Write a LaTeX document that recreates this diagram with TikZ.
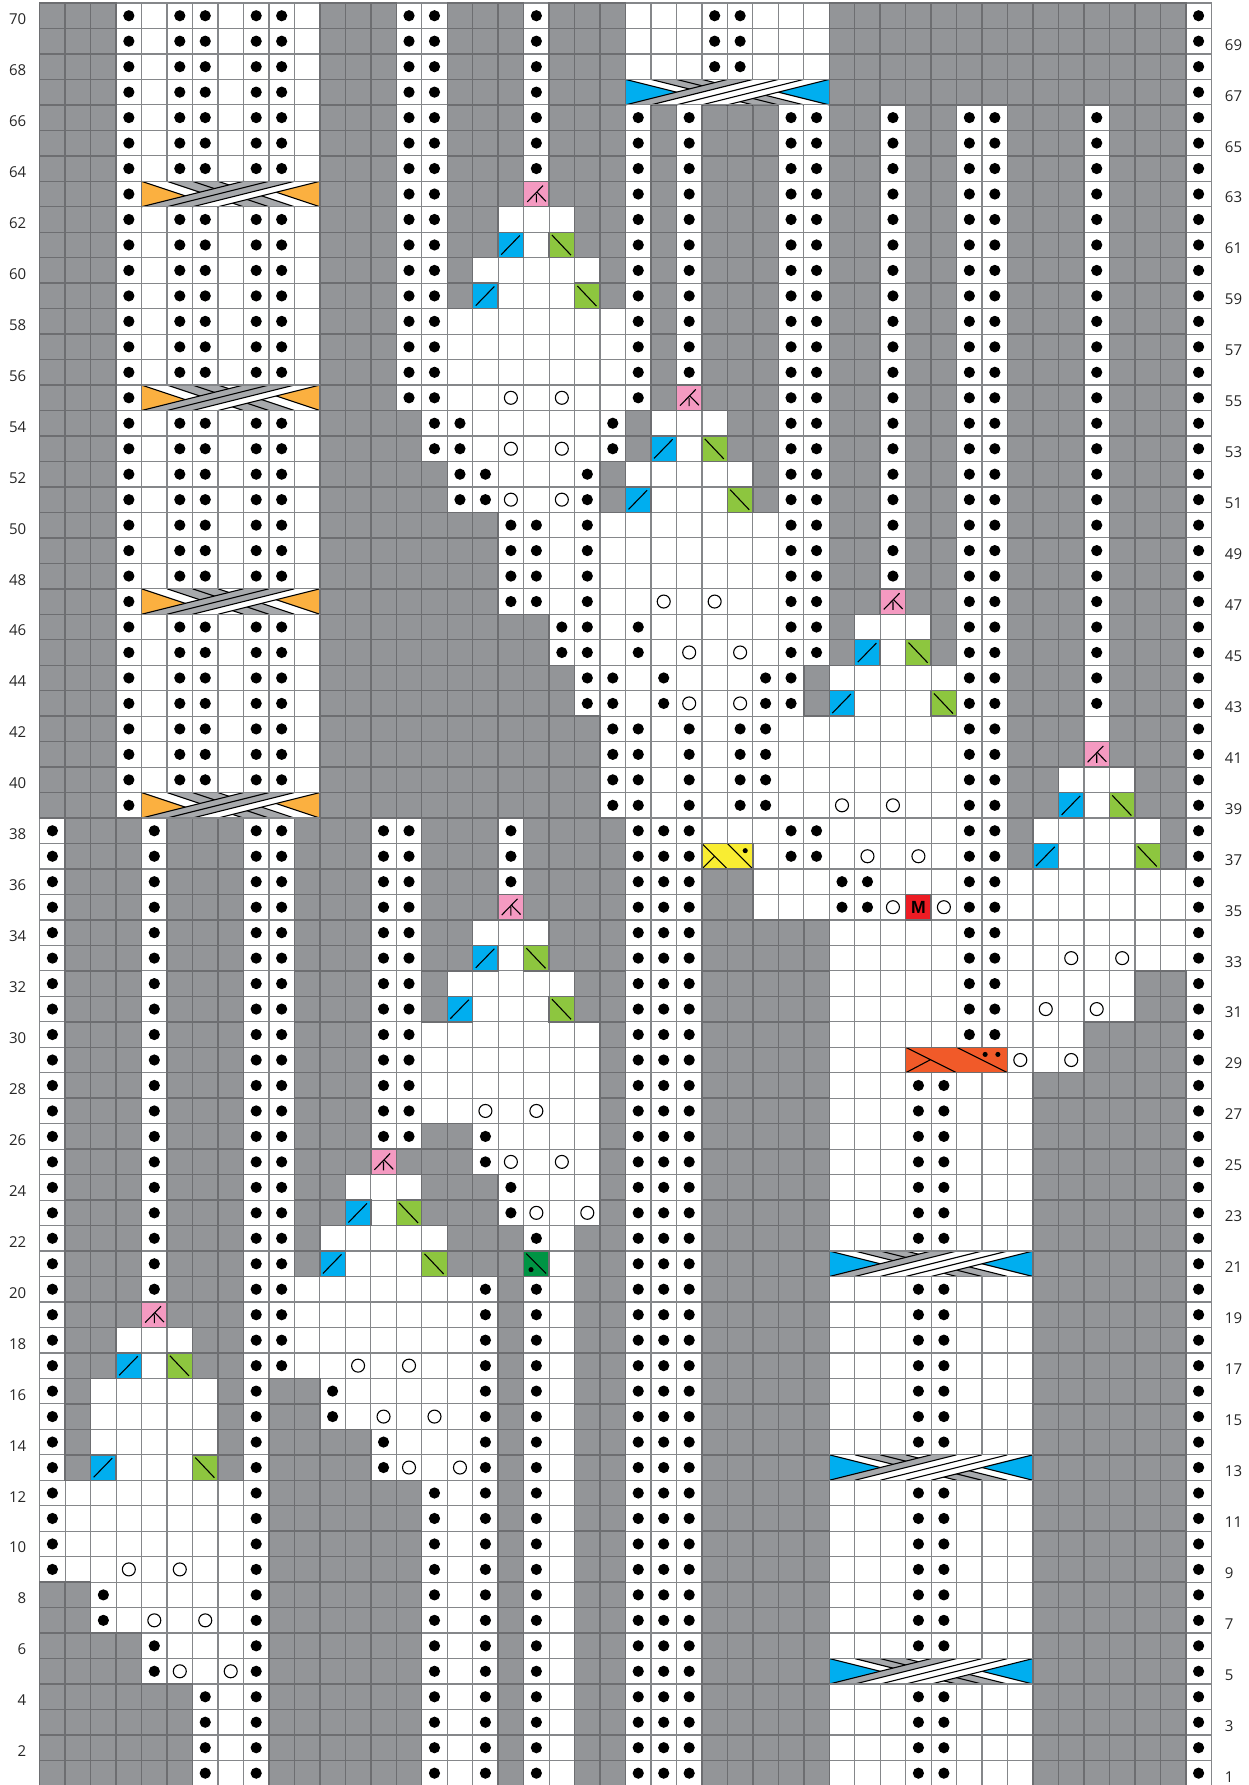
\documentclass[tikz,border=0pt]{standalone}
\usepackage{fontspec}
\setmainfont{Open Sans}
\newfontfamily\mfont{Liberation Sans}
\definecolor{cgray}{HTML}{939598}
\definecolor{lightgrid}{HTML}{85878A}
\definecolor{darkgrid}{HTML}{6D6E71}
\definecolor{cabgray}{HTML}{A7A9AC}
\definecolor{cblue}{HTML}{00AEEF}
\definecolor{cgreen}{HTML}{8DC63F}
\definecolor{cpink}{HTML}{F49AC1}
\definecolor{cdkgreen}{HTML}{009444}
\definecolor{cred}{HTML}{ED1C24}
\definecolor{cyellow}{HTML}{F9ED32}
\definecolor{corange}{HTML}{F15A29}
\definecolor{camber}{HTML}{FBB040}
\tikzset{
  lightline/.style={draw=lightgrid,line width=.6pt},
  darkline/.style={draw=darkgrid,line width=.72pt},
  stitch/.style={draw=black,line width=.55pt},
  rowlabel/.style={inner sep=0pt,font=\fontsize{7.5pt}{9pt}\selectfont,text=black!85}
}
\newcount\cidx
\newcount\ridx
\def\ChartParse#1{\ifx#1\relax\let\PNext\relax\else\CellAct{#1}\advance\cidx by 1 \let\PNext\ChartParse\fi\PNext}
\def\ChartRow#1#2{\cidx=0 \ridx=\numexpr70-#1\relax \ChartParse#2\relax}
% fill colours per cell code
\expandafter\def\csname fc-\endcsname{cgray}
\expandafter\def\csname fcB\endcsname{cblue}
\expandafter\def\csname fcG\endcsname{cgreen}
\expandafter\def\csname fcP\endcsname{cpink}
\expandafter\def\csname fcD\endcsname{cdkgreen}
\expandafter\def\csname fcM\endcsname{cred}
% cells with a dark frame
\expandafter\def\csname dk-\endcsname{}
\expandafter\def\csname dkB\endcsname{}
\expandafter\def\csname dkG\endcsname{}
\expandafter\def\csname dkP\endcsname{}
\expandafter\def\csname dkD\endcsname{}
\expandafter\def\csname dkM\endcsname{}
% symbols
\expandafter\def\csname symo\endcsname{\fill[black] (.5,.5) circle (.22);}
\expandafter\def\csname symO\endcsname{\draw[stitch,fill=white] (.5,.5) circle (.255);}
\expandafter\def\csname symB\endcsname{\draw[stitch] (.12,.88) -- (.85,.13);}
\expandafter\def\csname symG\endcsname{\draw[stitch] (.11,.11) -- (.86,.9);}
\expandafter\def\csname symP\endcsname{\draw[stitch] (.14,.81) -- (.76,.17) (.53,.43) -- (.88,.79) (.5,.5) -- (.5,.83);}
\expandafter\def\csname symD\endcsname{\draw[stitch] (.1,.1) -- (.88,.88); \fill[black] (.29,.73) circle (.1);}
\expandafter\def\csname symM\endcsname{\node[inner sep=0pt,text=black,font=\mfont\bfseries\fontsize{8.8pt}{9pt}\selectfont] (mstitch) at (.5,.52) {M};}
\def\ActFill#1{\ifcsname fc#1\endcsname\expandafter\let\expandafter\cellcol\csname fc#1\endcsname\fill[fill=\cellcol] (\the\cidx,\the\ridx) rectangle ++(1,1);\fi}
\def\ActLight#1{\ifcsname dk#1\endcsname\else\draw[lightline] (\the\cidx,\the\ridx) rectangle ++(1,1);\fi}
\def\ActDark#1{\ifcsname dk#1\endcsname\draw[darkline] (\the\cidx,\the\ridx) rectangle ++(1,1);\fi}
\def\ActSym#1{\ifcsname sym#1\endcsname\begin{scope}[shift={(\the\cidx,\the\ridx)}]\csname sym#1\endcsname\end{scope}\fi}
\newcommand{\TwistCable}[8]{% col, top, colour, n, Uw, Lw, under bands, over bands
  \begin{scope}[shift={(#1,#2)}]
    \fill[white] (0,0) rectangle (#4,1);
    \foreach \k/\bc in {#7} {\fill[\bc] (\k,0) -- ({\k+1},0) -- ({\k+1+#5},1) -- ({\k+#5},1) -- cycle;}
    \pgfmathsetmacro{\apx}{#5*#6/(#5+#6)}
    \pgfmathsetmacro{\apl}{#6/(#5+#6)}
    \pgfmathsetmacro{\apr}{#5/(#5+#6)}
    \fill[#3] (0,0) -- (\apx,\apl) -- (0,1) -- cycle;
    \fill[#3] (#4,0) -- ({#4-\apx},\apr) -- (#4,1) -- cycle;
    \pgfmathtruncatemacro{\ulast}{#4-#5}
    \foreach \k in {0,...,\ulast} {\draw[stitch] (\k,0) -- ({\k+#5},1);}
    \foreach \k/\bc in {#8} {\fill[\bc] (\k,1) -- ({\k+1},1) -- ({\k+1+#6},0) -- ({\k+#6},0) -- cycle;}
    \pgfmathtruncatemacro{\llast}{#4-#6}
    \foreach \k in {0,...,\llast} {\draw[stitch] (\k,1) -- ({\k+#6},0);}
    \draw[lightline] (0,0) -- (#4,0) (0,1) -- (#4,1);
    \draw[darkline] (0,0) -- (0,1) (#4,0) -- (#4,1);
  \end{scope}
}
\newcommand{\BlueCable}[2]{\TwistCable{#1}{#2}{cblue}{8}{4}{4}{0/white,1/cabgray,2/cabgray,3/white}{0/cabgray,1/white,2/white,3/white}}
\newcommand{\AmberCable}[2]{\TwistCable{#1}{#2}{camber}{7}{3}{4}{0/white,1/cabgray,2/cabgray,3/white}{0/cabgray,1/cabgray,2/white}}
\def\ChartRows{%
\ChartRow{70}{---o.oo.oo .---oo---o ---...oo.. .--------- -----o}
\ChartRow{69}{---o.oo.oo .---oo---o ---...oo.. .--------- -----o}
\ChartRow{68}{---o.oo.oo .---oo---o ---...oo.. .--------- -----o}
\ChartRow{67}{---o.oo.oo .---oo---o ---xxxxxxx x--------- -----o}
\ChartRow{66}{---o.oo.oo .---oo---o ---o-o---o o--o--oo-- -o---o}
\ChartRow{65}{---o.oo.oo .---oo---o ---o-o---o o--o--oo-- -o---o}
\ChartRow{64}{---o.oo.oo .---oo---o ---o-o---o o--o--oo-- -o---o}
\ChartRow{63}{---oxxxxxx x---oo---P ---o-o---o o--o--oo-- -o---o}
\ChartRow{62}{---o.oo.oo .---oo--.. .--o-o---o o--o--oo-- -o---o}
\ChartRow{61}{---o.oo.oo .---oo--B. G--o-o---o o--o--oo-- -o---o}
\ChartRow{60}{---o.oo.oo .---oo-... ..-o-o---o o--o--oo-- -o---o}
\ChartRow{59}{---o.oo.oo .---oo-B.. .G-o-o---o o--o--oo-- -o---o}
\ChartRow{58}{---o.oo.oo .---oo.... ...o-o---o o--o--oo-- -o---o}
\ChartRow{57}{---o.oo.oo .---oo.... ...o-o---o o--o--oo-- -o---o}
\ChartRow{56}{---o.oo.oo .---oo.... ...o-o---o o--o--oo-- -o---o}
\ChartRow{55}{---oxxxxxx x---oo..O. O..o-P---o o--o--oo-- -o---o}
\ChartRow{54}{---o.oo.oo .----oo... ..o-...--o o--o--oo-- -o---o}
\ChartRow{53}{---o.oo.oo .----oo.O. O.o-B.G--o o--o--oo-- -o---o}
\ChartRow{52}{---o.oo.oo .-----oo.. .o-.....-o o--o--oo-- -o---o}
\ChartRow{51}{---o.oo.oo .-----ooO. Oo-B...G-o o--o--oo-- -o---o}
\ChartRow{50}{---o.oo.oo .-------oo .o.......o o--o--oo-- -o---o}
\ChartRow{49}{---o.oo.oo .-------oo .o.......o o--o--oo-- -o---o}
\ChartRow{48}{---o.oo.oo .-------oo .o.......o o--o--oo-- -o---o}
\ChartRow{47}{---oxxxxxx x-------oo .o..O.O..o o--P--oo-- -o---o}
\ChartRow{46}{---o.oo.oo .--------- oo.o.....o o-...-oo-- -o---o}
\ChartRow{45}{---o.oo.oo .--------- oo.o.O.O.o o-B.G-oo-- -o---o}
\ChartRow{44}{---o.oo.oo .--------- -oo.o...oo -.....oo-- -o---o}
\ChartRow{43}{---o.oo.oo .--------- -oo.oO.Ooo -B...Goo-- -o---o}
\ChartRow{42}{---o.oo.oo .--------- --oo.o.oo. ......oo-- -.---o}
\ChartRow{41}{---o.oo.oo .--------- --oo.o.oo. ......oo-- -P---o}
\ChartRow{40}{---o.oo.oo .--------- --oo.o.oo. ......oo-- ...--o}
\ChartRow{39}{---oxxxxxx x--------- --oo.o.oo. .O.O..oo-- B.G--o}
\ChartRow{38}{o---o---oo ---oo---o- ---ooo...o o.....oo-. ....-o}
\ChartRow{37}{o---o---oo ---oo---o- ---oooxx.o o.O.O.oo-B ...G-o}
\ChartRow{36}{o---o---oo ---oo---o- ---ooo--.. .oo...oo.. .....o}
\ChartRow{35}{o---o---oo ---oo---P- ---ooo--.. .ooOMOoo.. .....o}
\ChartRow{34}{o---o---oo ---oo--... ---ooo---- -.....oo.. .....o}
\ChartRow{33}{o---o---oo ---oo--B.G ---ooo---- -.....oo.. O.O..o}
\ChartRow{32}{o---o---oo ---oo-.... .--ooo---- -.....oo.. ...--o}
\ChartRow{31}{o---o---oo ---oo-B... G--ooo---- -.....oo.O .O.--o}
\ChartRow{30}{o---o---oo ---oo..... ..-ooo---- -.....oo.. .----o}
\ChartRow{29}{o---o---oo ---oo..... ..-ooo---- -...xxxxO. O----o}
\ChartRow{28}{o---o---oo ---oo..... ..-ooo---- -...oo...- -----o}
\ChartRow{27}{o---o---oo ---oo..O.O ..-ooo---- -...oo...- -----o}
\ChartRow{26}{o---o---oo ---oo--o.. ..-ooo---- -...oo...- -----o}
\ChartRow{25}{o---o---oo ---P---oO. O.-ooo---- -...oo...- -----o}
\ChartRow{24}{o---o---oo --...---o. ..-ooo---- -...oo...- -----o}
\ChartRow{23}{o---o---oo --B.G---oO .O-ooo---- -...oo...- -----o}
\ChartRow{22}{o---o---oo -.....---o .--ooo---- -...oo...- -----o}
\ChartRow{21}{o---o---oo -B...G---D .--ooo---- -xxxxxxxx- -----o}
\ChartRow{20}{o---o---oo .......o-o .--ooo---- -...oo...- -----o}
\ChartRow{19}{o---P---oo .......o-o .--ooo---- -...oo...- -----o}
\ChartRow{18}{o--...--oo .......o-o .--ooo---- -...oo...- -----o}
\ChartRow{17}{o--B.G--oo ..O.O..o-o .--ooo---- -...oo...- -----o}
\ChartRow{16}{o-.....-o- -o.....o-o .--ooo---- -...oo...- -----o}
\ChartRow{15}{o-.....-o- -o.O.O.o-o .--ooo---- -...oo...- -----o}
\ChartRow{14}{o-.....-o- ---o...o-o .--ooo---- -...oo...- -----o}
\ChartRow{13}{o-B...G-o- ---oO.Oo-o .--ooo---- -xxxxxxxx- -----o}
\ChartRow{12}{o.......o- -----o.o-o .--ooo---- -...oo...- -----o}
\ChartRow{11}{o.......o- -----o.o-o .--ooo---- -...oo...- -----o}
\ChartRow{10}{o.......o- -----o.o-o .--ooo---- -...oo...- -----o}
\ChartRow{9}{o..O.O..o- -----o.o-o .--ooo---- -...oo...- -----o}
\ChartRow{8}{--o.....o- -----o.o-o .--ooo---- -...oo...- -----o}
\ChartRow{7}{--o.O.O.o- -----o.o-o .--ooo---- -...oo...- -----o}
\ChartRow{6}{----o...o- -----o.o-o .--ooo---- -...oo...- -----o}
\ChartRow{5}{----oO.Oo- -----o.o-o .--ooo---- -xxxxxxxx- -----o}
\ChartRow{4}{------o.o- -----o.o-o .--ooo---- -...oo...- -----o}
\ChartRow{3}{------o.o- -----o.o-o .--ooo---- -...oo...- -----o}
\ChartRow{2}{------o.o- -----o.o-o .--ooo---- -...oo...- -----o}
\ChartRow{1}{------o.o- -----o.o-o .--ooo---- -...oo...- -----o}
}
\begin{document}
\begin{tikzpicture}[x=12.735pt,y=-12.735pt]
\useasboundingbox (-1.5587,-0.1178) rectangle (47.479,69.965);
\let\CellAct\ActFill \ChartRows
\let\CellAct\ActLight \ChartRows
\let\CellAct\ActDark \ChartRows
\let\CellAct\ActSym \ChartRows
% cables
\AmberCable{4}{7}
\AmberCable{4}{15}
\AmberCable{4}{23}
\AmberCable{4}{31}
\BlueCable{23}{3}
\BlueCable{31}{49}
\BlueCable{31}{57}
\BlueCable{31}{65}
% two-stitch yellow
\begin{scope}[shift={(26,33)}]
  \fill[cyellow] (0,0) rectangle (2,1);
  \draw[stitch] (0,0) -- (1,1) (1,0) -- (2,1) (0,1) -- (.5,.5);
  \fill[black] (1.7,.28) circle (.1);
  \draw[darkline] (0,0) rectangle (2,1);
\end{scope}
% four-stitch orange
\begin{scope}[shift={(34,41)}]
  \fill[corange] (0,0) rectangle (4,1);
  \draw[stitch] (0,0) -- (2,1) (2,0) -- (4,1) (0,1) -- (.95,.5);
  \fill[black] (3.12,.28) circle (.1) (3.62,.28) circle (.1);
  \draw[darkline] (0,0) rectangle (4,1);
\end{scope}
% row numbers
\foreach \n in {2,4,...,70} {\node[rowlabel,anchor=east] (rl\n) at (-0.51,{70-\n+0.64}) {\n};}
\foreach \n in {1,3,...,69} {\node[rowlabel,anchor=west] (rl\n) at (46.52,{70-\n+0.64}) {\n};}
\end{tikzpicture}
\end{document}
